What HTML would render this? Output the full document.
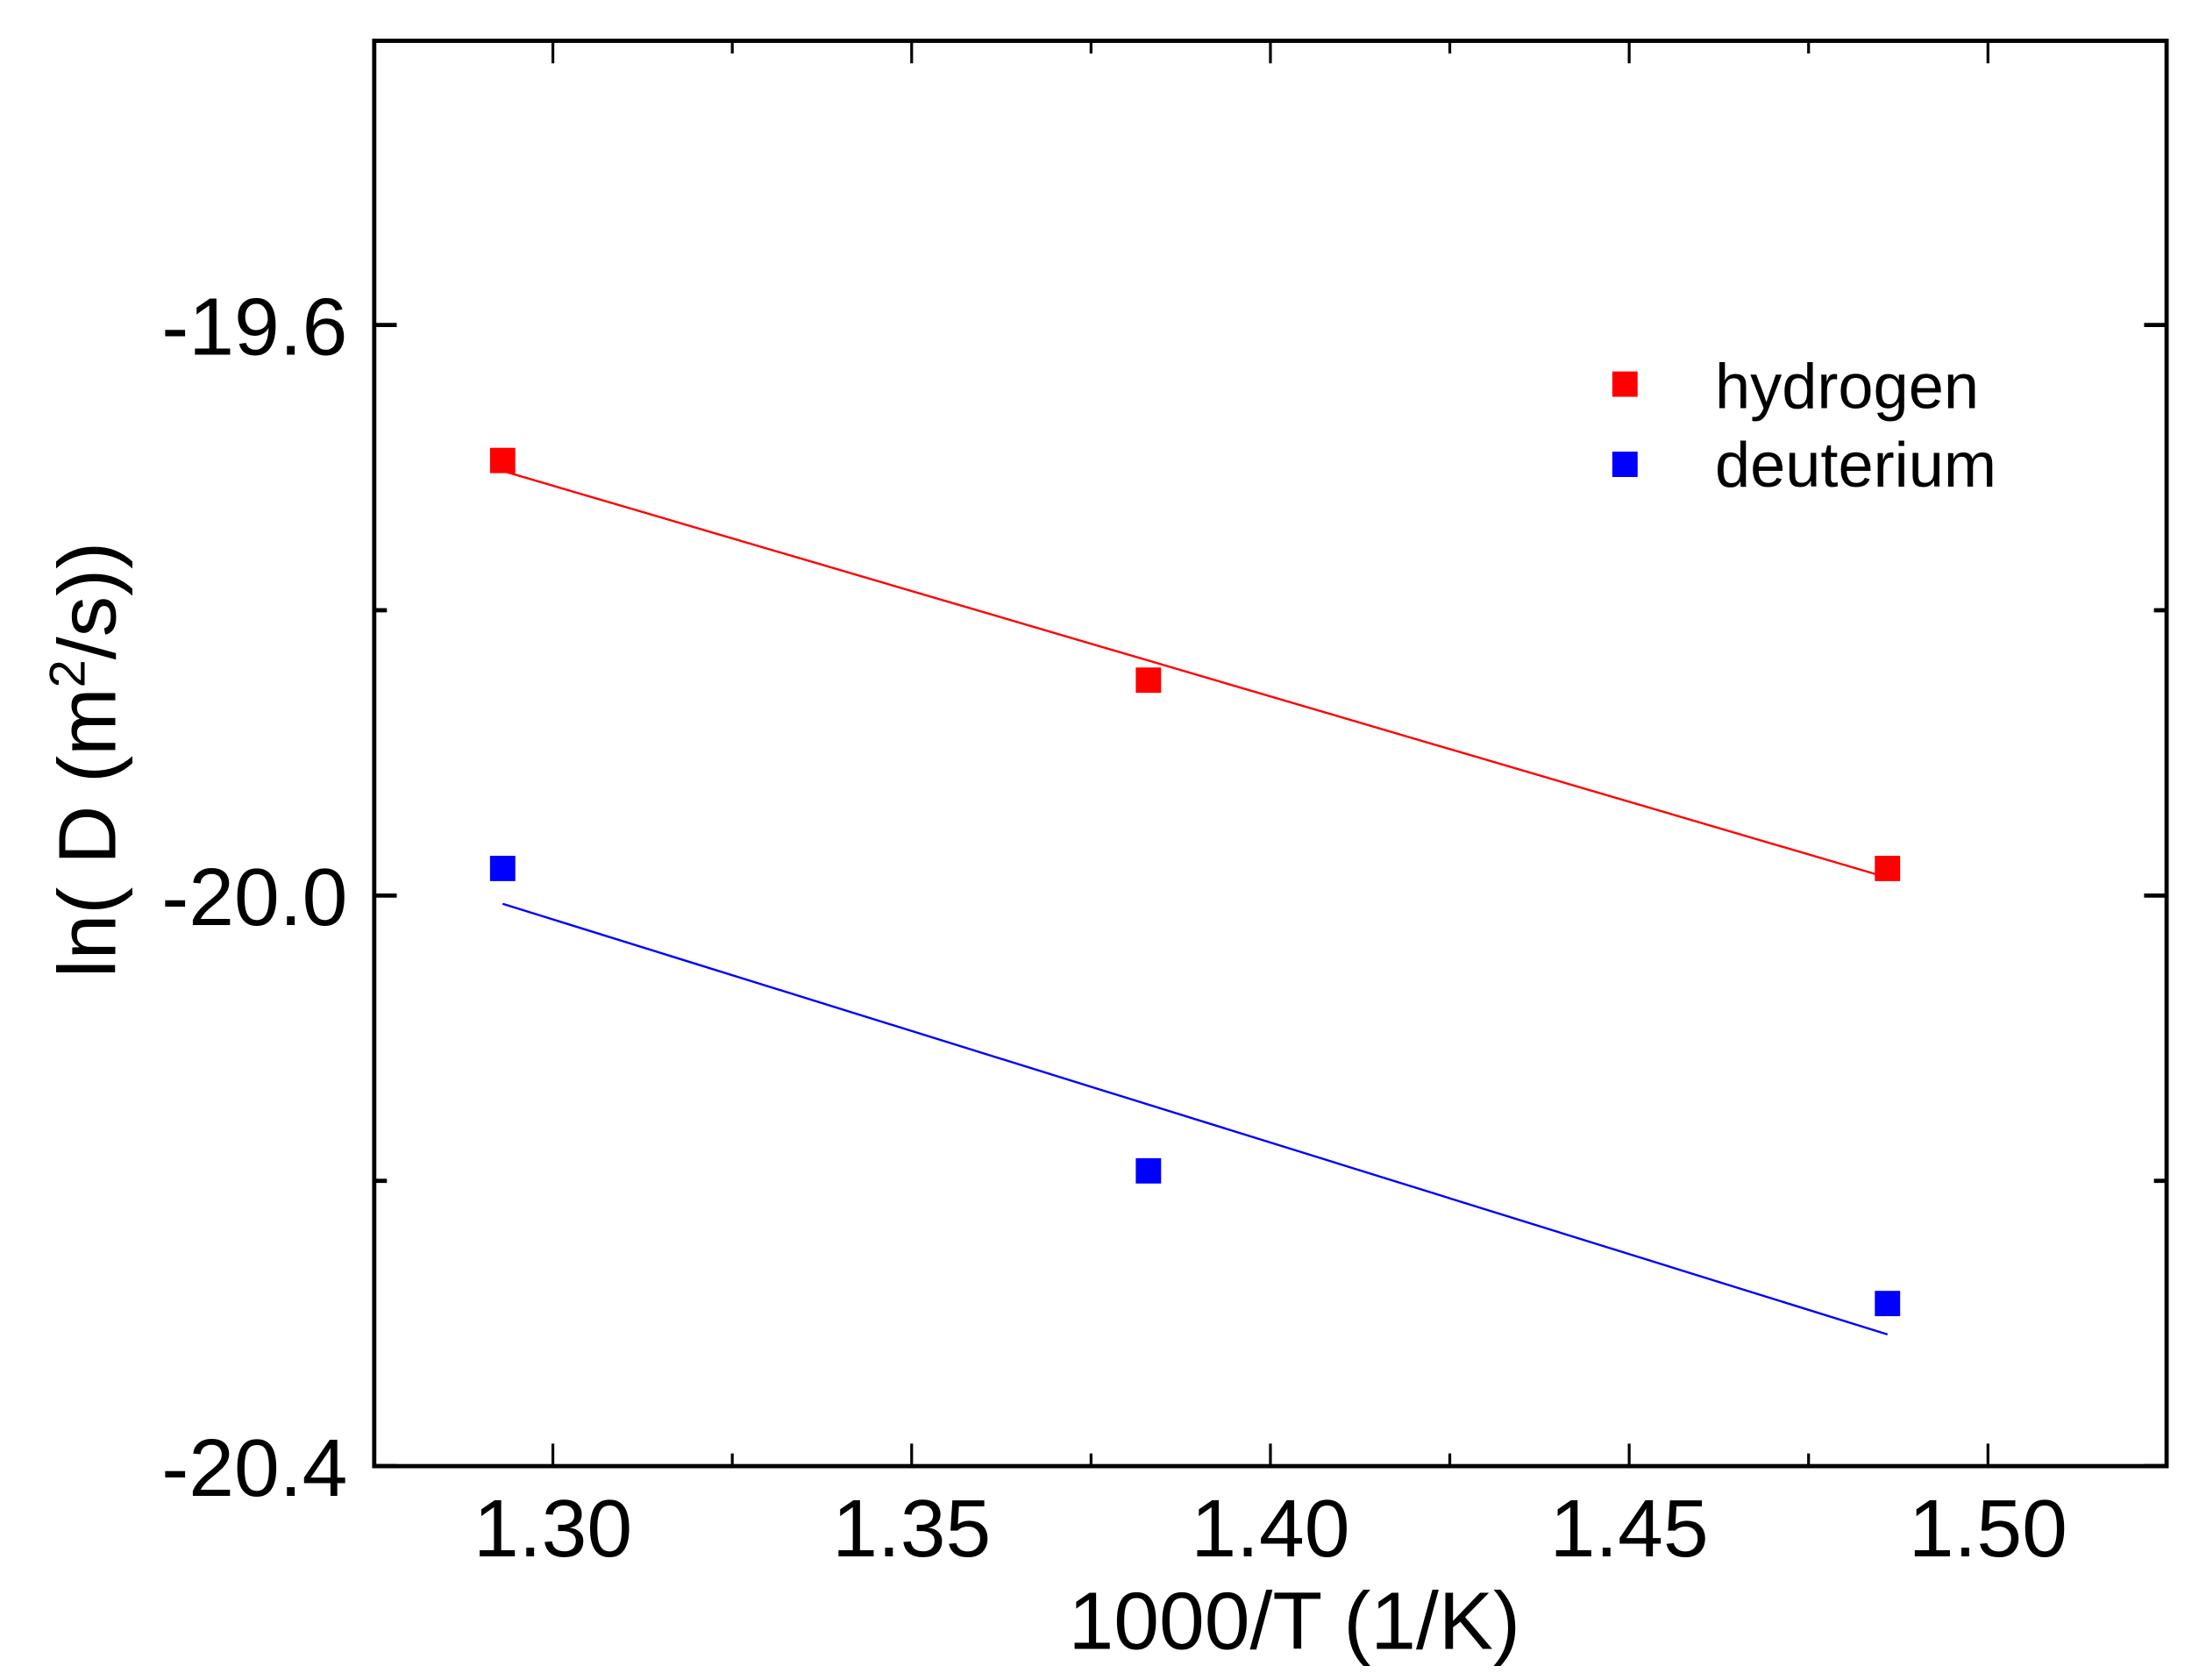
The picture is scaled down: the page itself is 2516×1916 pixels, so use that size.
<!DOCTYPE html>
<html><head><meta charset="utf-8"><style>html,body{margin:0;padding:0;background:#fff}svg{display:block}</style></head>
<body>
<svg id="chart" width="2516" height="1916" viewBox="0 0 1568 1194" preserveAspectRatio="none" xmlns="http://www.w3.org/2000/svg" font-family="'Liberation Sans', Arial, sans-serif">
<rect width="1568" height="1194" fill="#fff"/>
<g id="plot"></g>
<text x="920" y="1172" font-size="58" text-anchor="middle">1000/T (1/K)</text>
<text transform="translate(82,540) rotate(-90)" font-size="58" text-anchor="middle">ln( D (m<tspan font-size="36" dy="-22">2</tspan><tspan dy="22">/s))</tspan></text>
<g>
<rect x="1146" y="264" width="18" height="18" fill="#ff0000"/>
<text x="1219" y="290" font-size="45">hydrogen</text>
<rect x="1146" y="321" width="18" height="18" fill="#0000ff"/>
<text x="1219" y="346" font-size="45">deuterium</text>
</g>
</svg>
<script>
const xValues = [1.293, 1.383, 1.486];
const hydrogen = [-19.695, -19.849, -19.981];
const deuterium = [-19.981, -20.193, -20.286];
const xTicks = [1.30, 1.35, 1.40, 1.45, 1.50];
const xTickLabels = ["1.30", "1.35", "1.40", "1.45", "1.50"];
const yTicks = [-19.6, -20.0, -20.4];
const yTickLabels = ["-19.6", "-20.0", "-20.4"];

const NS = "http://www.w3.org/2000/svg";
const L = 266, R = 1540, T = 29, B = 1042;
const xMin = 1.2751, xMax = 1.5249, yMin = -20.4, yMax = -19.4008;
const sx = v => L + (v - xMin) / (xMax - xMin) * (R - L);
const sy = v => B - (v - yMin) / (yMax - yMin) * (B - T);
const g = document.getElementById('plot');
function mk(tag, attrs) { const e = document.createElementNS(NS, tag); for (const k in attrs) e.setAttribute(k, attrs[k]); g.appendChild(e); return e; }

let fr = mk('rect', {x: L, y: T, width: R - L, height: B - T, fill: 'none', stroke: '#000', 'stroke-width': 3});



for (let i = 0; i < 9; i++) {
  const v = 1.30 + i * 0.025;
  const x = sx(v), len = i % 2 === 0 ? 16 : 9;
  let t1 = mk('line', {x1: x, x2: x, y1: B, y2: B - len, stroke: '#000', 'stroke-width': 2});
  
  
  let t2 = mk('line', {x1: x, x2: x, y1: T, y2: T + len, stroke: '#000', 'stroke-width': 2});
  
  
}
xTicks.forEach((v, i) => {
  const t = mk('text', {x: sx(v), y: 1106, 'font-size': 58, 'text-anchor': 'middle'});
  t.textContent = xTickLabels[i];
  
  
});
for (let i = 0; i < 5; i++) {
  const v = -19.6 - i * 0.2;
  const y = sy(v), len = i % 2 === 0 ? 16 : 9;
  let t1 = mk('line', {x1: L, x2: L + len, y1: y, y2: y, stroke: '#000', 'stroke-width': 3});
  
  
  let t2 = mk('line', {x1: R, x2: R - len, y1: y, y2: y, stroke: '#000', 'stroke-width': 3});
  
  
}
yTicks.forEach((v, i) => {
  const t = mk('text', {x: 247, y: sy(v) + 21, 'font-size': 58, 'text-anchor': 'end'});
  t.textContent = yTickLabels[i];
  
  
});

function fit(xs, ys) {
  const n = xs.length, mx = xs.reduce((a, b) => a + b) / n, my = ys.reduce((a, b) => a + b) / n;
  let sxy = 0, sxx = 0;
  for (let i = 0; i < n; i++) { sxy += (xs[i] - mx) * (ys[i] - my); sxx += (xs[i] - mx) ** 2; }
  const m = sxy / sxx; return v => my + m * (v - mx);
}
function series(ys, color, name) {
  const f = fit(xValues, ys);
  const x0 = xValues[0], x1 = xValues[xValues.length - 1];
  const ln = mk('line', {x1: sx(x0), y1: sy(f(x0)), x2: sx(x1), y2: sy(f(x1)), stroke: color, 'stroke-width': 1.5});
  
  
  ys.forEach((v, i) => {
    const r = mk('rect', {x: sx(xValues[i]) - 9, y: sy(v) - 9, width: 18, height: 18, fill: color});
    
    
  });
}
series(hydrogen, '#ff0000', 'hydrogen');
series(deuterium, '#0000ff', 'deuterium');
</script>
</body></html>
